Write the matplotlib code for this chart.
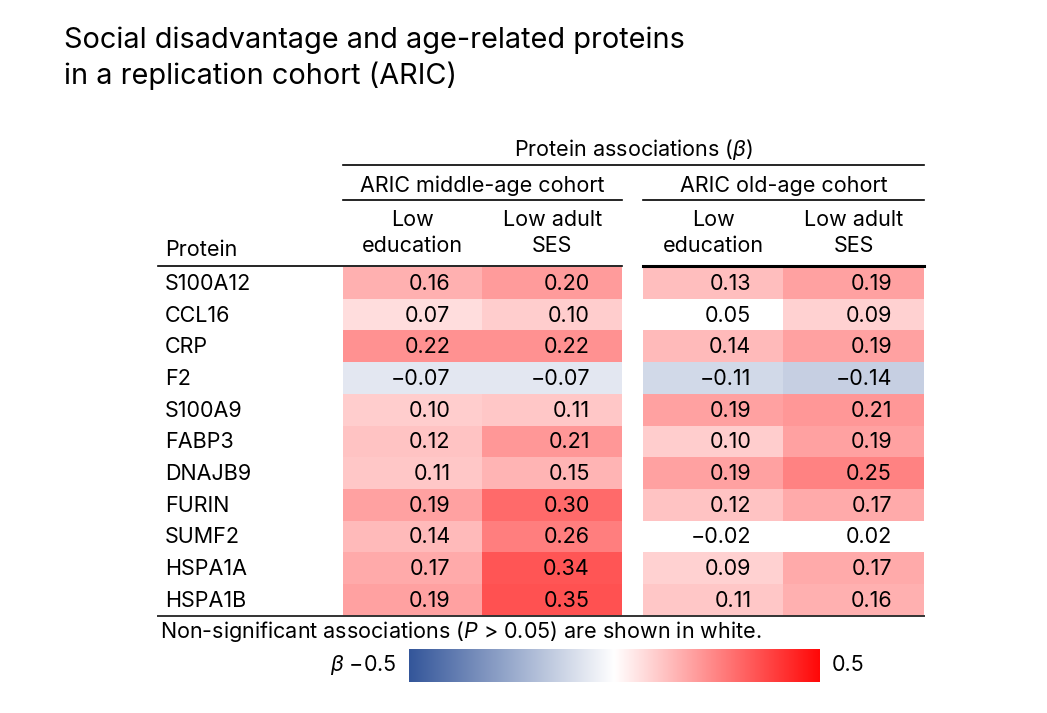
import numpy as np
import matplotlib
matplotlib.use("Agg")
import matplotlib.pyplot as plt
from matplotlib.colors import LinearSegmentedColormap

plt.rcParams['font.family'] = ['Inter', 'DejaVu Sans']
plt.rcParams['mathtext.fontset'] = 'custom'
plt.rcParams['mathtext.rm'] = 'Inter'
plt.rcParams['mathtext.it'] = 'Inter:italic'

# data
proteins = ["S100A12", "CCL16", "CRP", "F2", "S100A9", "FABP3", "DNAJB9",
            "FURIN", "SUMF2", "HSPA1A", "HSPA1B"]
cohorts = ["ARIC middle-age cohort", "ARIC old-age cohort"]
exposures = ["Low\neducation", "Low adult\nSES"]

mid_edu = [0.16, 0.07, 0.22, -0.07, 0.10, 0.12, 0.11, 0.19, 0.14, 0.17, 0.19]
mid_ses = [0.20, 0.10, 0.22, -0.07, 0.11, 0.21, 0.15, 0.30, 0.26, 0.34, 0.35]
old_edu = [0.13, 0.05, 0.14, -0.11, 0.19, 0.10, 0.19, 0.12, -0.02, 0.09, 0.11]
old_ses = [0.19, 0.09, 0.19, -0.14, 0.21, 0.19, 0.25, 0.17, 0.02, 0.17, 0.16]
# non-significant cells (P > 0.05), shown in white
old_edu_ns = ["CCL16", "SUMF2"]
old_ses_ns = ["SUMF2"]

cmap = LinearSegmentedColormap.from_list(
    "beta", ["#34569a", "#ffffff", "#ff0808"])
cmap.set_bad("white")
vmin, vmax = -0.5, 0.5

fig = plt.figure(figsize=(10.47, 7.13), dpi=100)
ax = fig.add_axes([0, 0, 1, 1])
ax.set_xlim(0, 1047)
ax.set_ylim(713, 0)
ax.axis("off")

def fmt(v):
    s = f"{abs(v):.2f}"
    return ("\u2212" + s) if v < 0 else s

# layout (pixels)
row_top, row_h = 267, 31.7
blocks = [(343, 622), (643, 924)]
block_data = [
    [mid_edu, mid_ses, [], []],
    [old_edu, old_ses, old_edu_ns, old_ses_ns],
]
n = len(proteins)
fs = 15.5

ax.text(64, 40, "Social disadvantage and age-related proteins",
        fontsize=20.8, va="center", ha="left")
ax.text(64, 76, "in a replication cohort (ARIC)",
        fontsize=20.8, va="center", ha="left")

for (x0, x1), (c1, c2, ns1, ns2), cname in zip(blocks, block_data, cohorts):
    arr = np.array([c1, c2], dtype=float).T
    for j, ns in enumerate([ns1, ns2]):
        for p in ns:
            arr[proteins.index(p), j] = np.nan
    ax.imshow(np.ma.masked_invalid(arr), cmap=cmap, vmin=vmin, vmax=vmax,
              extent=(x0, x1, row_top + n * row_h, row_top),
              aspect="auto", interpolation="nearest", zorder=1)
    cw = (x1 - x0) / 2
    for j, col in enumerate([c1, c2]):
        xr = x0 + cw * (j + 1) - 32
        for i, v in enumerate(col):
            ax.text(xr, row_top + row_h * (i + 0.5) + 1, fmt(v), fontsize=fs,
                    ha="right", va="center", zorder=3)
        ax.text(x0 + cw * (j + 0.5), 233, exposures[j], fontsize=fs,
                ha="center", va="center", linespacing=1.32)
    ax.text((x0 + x1) / 2, 186, cname, fontsize=fs, ha="center", va="center")
    ax.plot([x0, x1], [200, 200], color="black", lw=1.2)

ax.text((blocks[0][0] + blocks[1][1]) / 2, 150,
        r"Protein associations ($\it{\beta}$)", fontsize=fs,
        ha="center", va="center")
ax.plot([blocks[0][0], blocks[1][1]], [165, 165], color="black", lw=1.2)

ax.text(165, 250, "Protein", fontsize=fs, ha="left", va="center")
for i, p in enumerate(proteins):
    ax.text(165, row_top + row_h * (i + 0.5) + 1, p, fontsize=fs,
            ha="left", va="center")

ax.plot([158, blocks[0][1]], [266, 266], color="black", lw=1.2, zorder=4)
ax.plot([blocks[1][0], blocks[1][1]], [266, 266], color="black", lw=2.2,
        zorder=4)
ax.plot([158, blocks[1][1]], [row_top + n * row_h] * 2, color="#333333",
        lw=1.4, zorder=4)

ax.text(160, 631, r"Non-significant associations ($\it{P}$ > 0.05) are shown in white.",
        fontsize=fs, ha="left", va="center")

# colour bar
grad = np.linspace(vmin, vmax, 256).reshape(1, -1)
ax.imshow(grad, cmap=cmap, vmin=vmin, vmax=vmax, extent=(409, 820, 682, 649),
          aspect="auto", interpolation="bilinear")
ax.text(397, 665, r"$\it{\beta}$ " + "\u22120.5",
        fontsize=fs, ha="right", va="center")
ax.text(832, 665, "0.5", fontsize=fs, ha="left", va="center")

fig.savefig("out.png", dpi=100)
